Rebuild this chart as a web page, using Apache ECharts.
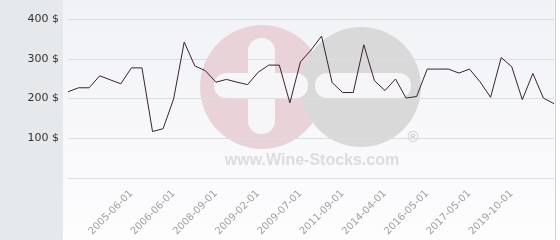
<!DOCTYPE html>
<html>
<head>
<meta charset="utf-8">
<script src="https://cdn.jsdelivr.net/npm/echarts@6/dist/echarts.min.js"></script>
<style>
html,body{margin:0;padding:0;background:#ffffff;}
#chart{width:560px;height:240px;}
</style>
</head>
<body>
<div id="chart"></div>
<script>
const categories = [
  '2004-01-01','2004-04-01','2004-06-01','2004-09-01','2004-12-01','2005-03-01',
  '2005-06-01','2005-09-01','2005-12-01','2006-03-01','2006-06-01','2006-12-01',
  '2007-06-01','2008-01-01','2008-09-01','2008-10-01','2008-12-01','2009-01-01',
  '2009-02-01','2009-03-01','2009-04-01','2009-06-01','2009-07-01','2010-01-01',
  '2010-06-01','2011-01-01','2011-09-01','2012-04-01','2012-11-01','2013-06-01',
  '2014-04-01','2014-10-01','2015-04-01','2015-10-01','2016-05-01','2016-08-01',
  '2016-11-01','2017-02-01','2017-05-01','2017-12-01','2018-06-01','2019-01-01',
  '2019-10-01','2020-04-01','2020-10-01','2021-04-01','2021-10-01'
];
const prices = [
  217, 227, 227, 257, 247, 237,
  277, 277, 117, 124, 199, 342,
  282, 270, 241, 248, 241, 235,
  266, 284, 284, 189, 292, 322,
  357, 240, 215, 215, 335, 245,
  220, 249, 201, 205, 274, 274,
  274, 264, 274, 242, 203, 303,
  280, 197, 263, 201, 187
];
const tickLabels = [
  '2005-06-01','2006-06-01','2008-09-01','2009-02-01','2009-07-01',
  '2011-09-01','2014-04-01','2016-05-01','2017-05-01','2019-10-01'
];
const yTicks = [100, 200, 300, 400];

const chart = echarts.init(document.getElementById('chart'), null, {renderer:'canvas'});
const option = {
  animation: false,
  backgroundColor: '#ffffff',
  graphic: [
    {type:'rect', z:-20, shape:{x:0,y:0,width:63,height:240}, style:{fill:'#e6e9ec'}},
    {type:'rect', z:-20, shape:{x:63,y:0,width:493,height:240},
      style:{fill:new echarts.graphic.LinearGradient(0,0,0,1,[{offset:0,color:'#f1f2f6'},{offset:1,color:'#fdfdfe'}])}},
    {type:'rect', z:-20, shape:{x:555,y:0,width:1,height:240}, style:{fill:'#cfd2d6'}},
    {type:'circle', z:-15, shape:{cx:262,cy:87,r:62}, style:{fill:'#ead2d9'}},
    {type:'circle', z:-14, shape:{cx:361,cy:87,r:60}, style:{fill:'#d9d9da'}},
    {type:'rect', z:-13, shape:{x:248,y:38,width:27,height:96,r:13}, style:{fill:'#f6f6f8'}},
    {type:'rect', z:-13, shape:{x:214,y:73,width:94,height:25,r:12}, style:{fill:'#f6f6f8'}},
    {type:'rect', z:-13, shape:{x:315,y:73,width:96,height:25,r:12}, style:{fill:'#f6f6f8'}},
    {type:'text', z:-13, style:{text:'®', x:413, y:138, fill:'#d2d2d4', font:'bold 15px "Liberation Sans"', align:'center', verticalAlign:'middle'}},
    {type:'text', z:-13, style:{text:'www.Wine-Stocks.com', x:312, y:161, fill:'#dcdcde', font:'bold 16px "Liberation Sans"', align:'center', verticalAlign:'middle'}}
  ],
  grid: {left:68, right:6, top:19, bottom:62, containLabel:false},
  xAxis: {
    type:'category',
    data: categories,
    boundaryGap:false,
    axisLine:{show:false},
    axisTick:{show:false},
    splitLine:{show:false},
    axisLabel:{
      rotate:45,
      interval:(i, v) => tickLabels.includes(v),
      margin:14,
      fontFamily:'DejaVu Sans',
      fontSize:10,
      color:'#a0a0a0'
    }
  },
  yAxis: {
    type:'value',
    min:0, max:400, interval:100,
    axisLine:{show:false},
    axisTick:{show:false},
    splitLine:{lineStyle:{color:'#dcdde2', width:1}},
    axisLabel:{
      formatter:(v) => yTicks.includes(v) ? v + ' $' : '',
      margin:9,
      fontFamily:'DejaVu Sans',
      fontSize:11,
      color:'#333333'
    }
  },
  series: [{
    type:'line',
    data: prices,
    symbol:'none',
    lineStyle:{color:'#3a2230', width:1}
  }]
};
chart.setOption(option);
</script>
</body>
</html>
